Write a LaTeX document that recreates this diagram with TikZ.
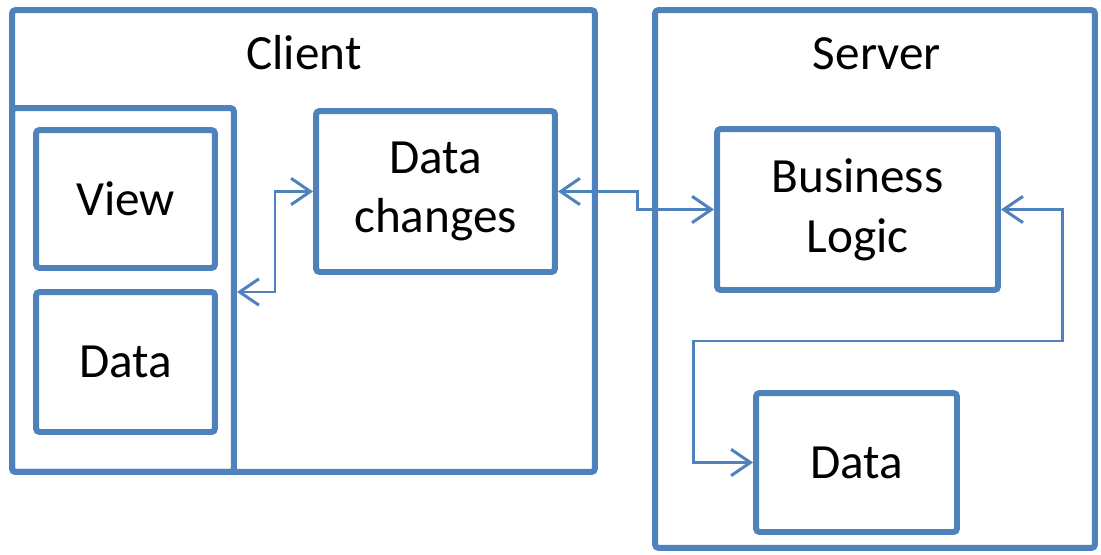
\documentclass[tikz,border=0pt]{standalone}
\usepackage{fontspec}
\setmainfont{Carlito}
\usetikzlibrary{positioning,arrows.meta,calc}
\definecolor{boxblue}{HTML}{4F81BD}

\begin{document}
\begin{tikzpicture}[x=0.02cm, y=-0.02cm]
	\tikzset{
		mybox/.style={rectangle, rounded corners=2pt, draw=boxblue, line width=3.4pt, inner sep=0pt},
		mytext/.style={font=\fontsize{28}{34}\selectfont, text centered, align=center},
		myarrow/.style={{Straight Barb[length=11pt,width=15pt]}-{Straight Barb[length=11pt,width=15pt]}, draw=boxblue, line width=1.7pt}
	}
	\useasboundingbox (0,0) rectangle (1101,554);

	% client side
	\node[mybox, minimum width=11.66cm, minimum height=9.24cm] (client) at (303.5,241) {};
	\node[mytext, anchor=base] (clientlabel) at (304,70) {Client};
	\node[mybox, minimum width=4.44cm, minimum height=7.28cm] (clientinner) at (123,290) {};
	\node[mybox, mytext, minimum width=3.58cm, minimum height=2.76cm] (view) at (125.5,199) {View};
	\node[mybox, mytext, minimum width=3.58cm, minimum height=2.8cm] (clientdata) at (125.5,362) {Data};
	\node[mybox, mytext, minimum width=4.78cm, minimum height=3.22cm] (changes) at (435.5,191.5) {Data\\changes};

	% server side
	\node[mybox, minimum width=8.8cm, minimum height=10.76cm] (server) at (875,279) {};
	\node[mytext, anchor=base] (serverlabel) at (877,70) {Server};
	\node[mybox, mytext, minimum width=5.62cm, minimum height=3.22cm] (logic) at (857.5,209.5) {Business\\Logic};
	\node[mybox, mytext, minimum width=4.02cm, minimum height=2.78cm] (serverdata) at (856.5,462.5) {Data};

	\coordinate (bend1) at (275,292);
	\coordinate (bend2) at (637,209.5);
	\coordinate (bend3) at (1062,341);
	\coordinate (bend4) at (693,462.5);

	\draw[myarrow] (changes.west) -| (bend1) -- (bend1 -| clientinner.east);
	\draw[myarrow] (changes.east) -| (bend2) -- (logic.west);
	\draw[myarrow] (logic.east) -| (bend3) -| (bend4) -- (serverdata.west);
\end{tikzpicture}
\end{document}
